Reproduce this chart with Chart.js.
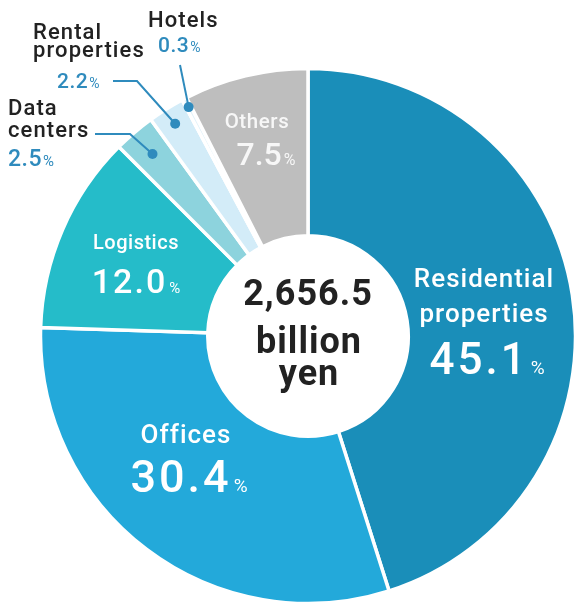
<!DOCTYPE html>
<html>
<head>
<meta charset="utf-8">
<script src="https://cdn.jsdelivr.net/npm/chart.js@4/dist/chart.umd.min.js"></script>
<style>
  html, body { margin: 0; padding: 0; background: #ffffff; overflow: hidden; }
  #wrap { position: relative; width: 574px; height: 605px; }
</style>
</head>
<body>
<div id="wrap"><canvas id="c"></canvas></div>
<script>
// ---- data ----
const categories = ['Residential properties', 'Offices', 'Logistics', 'Data centers', 'Rental properties', 'Hotels', 'Others'];
const shares = [45.1, 30.4, 12.0, 2.5, 2.2, 0.3, 7.5];
const shareLabels = ['45.1', '30.4', '12.0', '2.5', '2.2', '0.3', '7.5'];
const centerLines = ['2,656.5', 'billion', 'yen'];

// ---- styles ----
const colors = ['#1a8eb9', '#23a9da', '#25bcc9', '#8dd3dd', '#d3ecf8', '#e3f3fa', '#bebebe'];
const FONT = 'Roboto, "Noto Sans", sans-serif';
const BLUE = '#2f8bbd';
const DARK = '#222222';

// inside labels
const inside = {
  0: { lines: ['Residential', 'properties'], nameSize: 26, valSize: 44, pctSize: 19, x: 484, y: 287, lineH: 35, valGap: 52, sp: 1, vsp: 3, vdx: 3, gap: 2 },
  1: { lines: ['Offices'], nameSize: 26, valSize: 45, pctSize: 19, x: 186, y: 443, lineH: 0, valGap: 49, sp: 1, vsp: 3, vdx: 3, gap: 2 },
  2: { lines: ['Logistics'], nameSize: 20, valSize: 34, pctSize: 15, x: 136, y: 249, lineH: 0, valGap: 44, sp: 0.5, vsp: 2, vdx: 0, gap: 2 },
  6: { lines: ['Others'], nameSize: 20.5, valSize: 32, pctSize: 16, x: 257, y: 128, lineH: 0, valGap: 37, sp: 0.6, vsp: 0, vdx: 9, gap: 2, color: '#f7f7f7' }
};
// outside labels with leader lines
const outside = {
  3: { lines: ['Data', 'centers'], x: 8, y: 115, lineH: 22, valX: 8, valY: 166, valSize: 23, pctSize: 15,
       leader: [[95, 134], [130, 134]], rFrac: 0.895 },
  4: { lines: ['Rental', 'properties'], x: 33, y: 39, lineH: 18, valX: 57, valY: 88, valSize: 21, pctSize: 14,
       leader: [[113, 81], [137, 81]], rFrac: 0.936 },
  5: { lines: ['Hotels'], x: 148, y: 27, lineH: 0, valX: 158, valY: 52, valSize: 21, pctSize: 14,
       leader: [[180, 65]], rFrac: 0.965 }
};

function drawValue(ctx, text, size, pctSize, sp, x, y, align, gap) {
  ctx.save();
  ctx.font = '500 ' + size + 'px ' + FONT;
  ctx.letterSpacing = sp + 'px';
  const w1 = ctx.measureText(text).width;
  ctx.font = '400 ' + pctSize + 'px ' + FONT;
  ctx.letterSpacing = '0px';
  const w2 = ctx.measureText('%').width;
  const total = w1 + gap + w2;
  let left = align === 'left' ? x : x - total / 2;
  ctx.textAlign = 'left';
  ctx.textBaseline = 'alphabetic';
  ctx.font = '500 ' + size + 'px ' + FONT;
  ctx.letterSpacing = sp + 'px';
  ctx.fillText(text, left, y);
  ctx.font = '400 ' + pctSize + 'px ' + FONT;
  ctx.letterSpacing = '0px';
  ctx.fillText('%', left + w1 + gap, y);
  ctx.restore();
}

const labelPlugin = {
  id: 'labels',
  afterDraw(chart) {
    const ctx = chart.ctx;
    const meta = chart.getDatasetMeta(0);
    const arc0 = meta.data[0];
    const cx = arc0.x, cy = arc0.y;

    // center text
    ctx.save();
    ctx.fillStyle = DARK;
    ctx.textAlign = 'center';
    ctx.textBaseline = 'alphabetic';
    ctx.font = '700 36px ' + FONT;
    ctx.letterSpacing = '1px';
    ctx.fillText(centerLines[0], cx, cy - 31);
    ctx.fillText(centerLines[1], cx + 1, cy + 17);
    ctx.fillText(centerLines[2], cx + 1, cy + 49);
    ctx.restore();

    // inside labels
    Object.keys(inside).forEach(k => {
      const L = inside[k];
      ctx.save();
      ctx.fillStyle = L.color || '#ffffff';
      ctx.textAlign = 'center';
      ctx.textBaseline = 'alphabetic';
      ctx.font = '500 ' + L.nameSize + 'px ' + FONT;
      ctx.letterSpacing = L.sp + 'px';
      L.lines.forEach((t, i) => ctx.fillText(t, L.x, L.y + i * L.lineH));
      const vy = L.y + (L.lines.length - 1) * L.lineH + L.valGap;
      drawValue(ctx, shareLabels[k], L.valSize, L.pctSize, L.vsp, L.x + L.vdx, vy, 'center', L.gap);
      ctx.restore();
    });

    // outside labels + leaders
    Object.keys(outside).forEach(k => {
      const L = outside[k];
      const a = meta.data[k];
      const mid = (a.startAngle + a.endAngle) / 2;
      const r = a.outerRadius * L.rFrac;
      const dx = cx + Math.cos(mid) * r;
      const dy = cy + Math.sin(mid) * r;
      ctx.save();
      ctx.strokeStyle = BLUE;
      ctx.lineWidth = 2;
      ctx.beginPath();
      ctx.moveTo(L.leader[0][0], L.leader[0][1]);
      for (let i = 1; i < L.leader.length; i++) ctx.lineTo(L.leader[i][0], L.leader[i][1]);
      ctx.lineTo(dx, dy);
      ctx.stroke();
      ctx.fillStyle = BLUE;
      ctx.beginPath();
      ctx.arc(dx, dy, 5, 0, Math.PI * 2);
      ctx.fill();

      ctx.fillStyle = DARK;
      ctx.textAlign = 'left';
      ctx.textBaseline = 'alphabetic';
      ctx.font = '500 22px ' + FONT;
      ctx.letterSpacing = '1.1px';
      L.lines.forEach((t, i) => ctx.fillText(t, L.x, L.y + i * L.lineH));
      ctx.fillStyle = BLUE;
      drawValue(ctx, shareLabels[k], L.valSize, L.pctSize, 0.5, L.valX, L.valY, 'left', 1);
      ctx.restore();
    });
  }
};

new Chart(document.getElementById('c'), {
  type: 'doughnut',
  data: {
    labels: categories,
    datasets: [{
      data: shares,
      backgroundColor: colors,
      borderColor: '#ffffff',
      borderWidth: 3.5,
      hoverOffset: 0,
      offset: 0
    }]
  },
  options: {
    responsive: true,
    maintainAspectRatio: false,
    animation: false,
    radius: 267.5,
    cutout: 99,
    rotation: 0,
    layout: { padding: { left: 42, right: 0, top: 70, bottom: 3 } },
    plugins: { legend: { display: false }, tooltip: { enabled: false } },
    events: []
  },
  plugins: [labelPlugin]
});
</script>
</body>
</html>
